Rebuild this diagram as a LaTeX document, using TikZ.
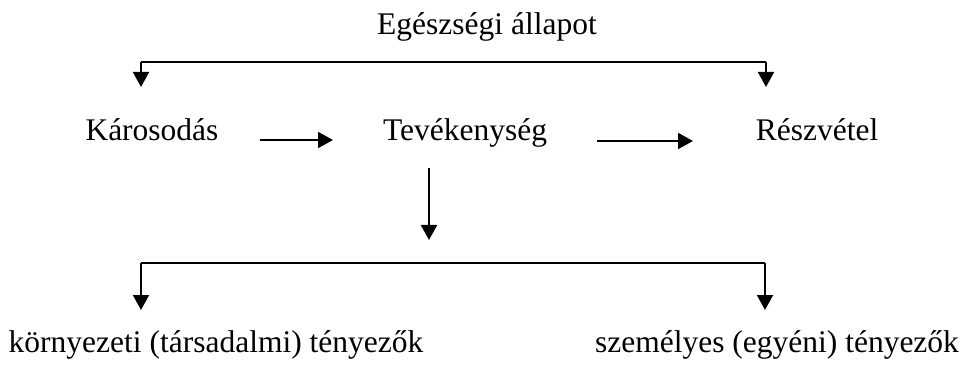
\documentclass[tikz,border=0pt]{standalone}
\usepackage{fontspec}
\setmainfont{Liberation Serif}
\usetikzlibrary{arrows.meta}
\begin{document}
\begin{tikzpicture}[x=1pt,y=-1pt,
  lbl/.style={inner sep=0pt,anchor=base,font=\fontsize{31.5}{36}\selectfont},
  conn/.style={line width=2pt,-{Triangle[width=16pt,length=15pt]}},
  bar/.style={line width=2pt}]
\useasboundingbox (0,0) rectangle (961,374);
% labels
\node[lbl] (eg)  at (487,35)  {Egészségi állapot};
\node[lbl] (kar) at (152,141) {Károsodás};
\node[lbl] (tev) at (465,141) {Tevékenység};
\node[lbl] (res) at (817,141) {Részvétel};
\node[lbl] (kor) at (216,352) {környezeti (társadalmi) tényezők};
\node[lbl] (sze) at (777,352) {személyes (egyéni) tényezők};
% bracket under the title
\coordinate (tl) at (141,62);
\coordinate (tr) at (766,62);
\coordinate (tla) at (141,87);
\coordinate (tra) at (766,87);
\draw[bar] (tl) -- (tr);
\draw[conn] (tl) -- (tla);
\draw[conn] (tr) -- (tra);
% arrows along the middle row
\coordinate (a1) at (260,140);
\coordinate (a2) at (333,140);
\coordinate (b1) at (597,141);
\coordinate (b2) at (693,141);
\draw[conn] (a1) -- (a2);
\draw[conn] (b1) -- (b2);
% arrow down from the middle row
\coordinate (v1) at (429,168);
\coordinate (v2) at (429,240);
\draw[conn] (v1) -- (v2);
% lower bracket
\coordinate (bl) at (141,263);
\coordinate (br) at (765,263);
\coordinate (bla) at (141,310);
\coordinate (bra) at (765,310);
\draw[bar] (bl) -- (br);
\draw[conn] (bl) -- (bla);
\draw[conn] (br) -- (bra);
\end{tikzpicture}
\end{document}
